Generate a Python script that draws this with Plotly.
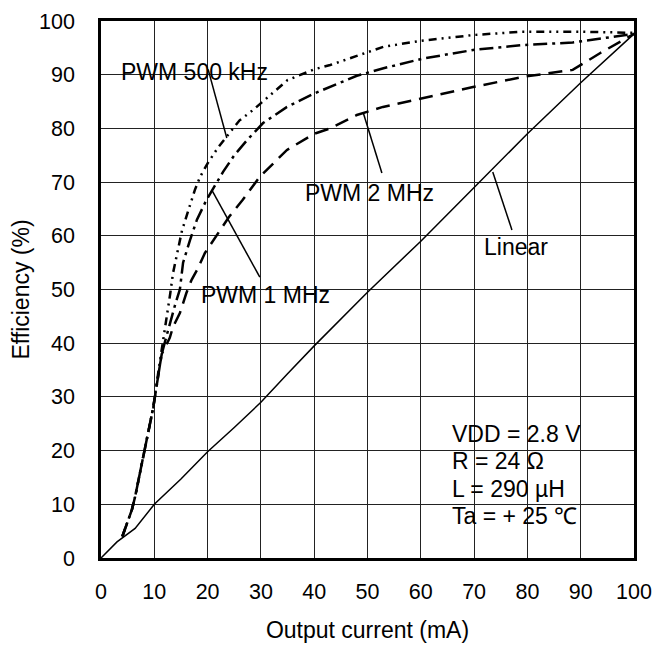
import plotly.graph_objects as go

# Output current (mA) / efficiency (%)
lin_x = [0, 3, 6.4, 10, 15, 20, 25, 30, 35, 40, 50, 60, 70, 80, 90, 100]
lin_y = [0, 3, 5.5, 10, 14.7, 19.8, 24.3, 29, 34.3, 39.5, 49.5, 59, 69, 79, 88.5, 97.6]

k500_x = [4, 5.8, 6.4, 7.9, 8.6, 9.8, 10.9, 11.4, 12, 12.6, 13, 13.5, 14.5, 15.2, 16.7, 17.6,
          18.6, 20, 22, 24, 26, 28.5, 31, 35, 40, 43, 48, 53, 60, 70, 79, 90, 100]
k500_y = [4, 9, 11.4, 18.8, 22.5, 28, 35.6, 38.7, 43, 46.7, 49.3, 53, 57.7, 61, 65.7, 68.5,
          71, 73.5, 76.5, 79, 81.5, 83.4, 85.5, 89, 91, 91.8, 93.5, 95.2, 96.3, 97.4, 98, 98, 97.8]

m1_x = [4, 5.8, 6.4, 7.9, 8.6, 9.8, 11, 11.4, 12.2, 13, 14, 14.8, 15.4, 16.7, 18, 19.8,
        21.7, 22.9, 25, 27.4, 30.4, 34.9, 40, 43, 48, 53, 60.4, 69.8, 79, 88.5, 100]
m1_y = [4, 9, 11.4, 18.8, 22.5, 28, 35.6, 38, 41, 44, 47.5, 50, 55, 59.2, 63, 66.7,
        69.8, 71.9, 75, 77.8, 81, 84, 86.5, 87.7, 89.8, 91.2, 93, 94.6, 95.5, 96, 97.6]

m2_x = [4, 5.8, 6.4, 7.9, 8.6, 9.8, 11, 11.4, 12.9, 13.5, 14.8, 16, 17, 18, 19.5, 21.7,
        24, 26.6, 29.8, 34.9, 40, 43, 48, 52.9, 60.4, 69.8, 79.2, 88.5, 93.6, 100]
m2_y = [4, 9, 11.4, 18.8, 22.5, 28, 35.6, 38, 41, 43, 45.6, 49.3, 51.8, 53.6, 56.8, 60,
        63.5, 66.7, 71, 76, 79, 80, 82.5, 84, 85.7, 87.7, 89.6, 90.9, 94, 97.6]

x_ticks = [0, 10, 20, 30, 40, 50, 60, 70, 80, 90, 100]
y_ticks = [0, 10, 20, 30, 40, 50, 60, 70, 80, 90, 100]

FONT = "Liberation Sans, Arial, sans-serif"
ANN = 23

fig = go.Figure()
fig.add_trace(go.Scatter(x=lin_x, y=lin_y, mode="lines",
                         line=dict(color="black", width=1.5)))
fig.add_trace(go.Scatter(x=k500_x, y=k500_y, mode="lines",
                         line=dict(color="black", width=2.5, dash="8px,5px,2px,5px,2px,5px")))
fig.add_trace(go.Scatter(x=m1_x, y=m1_y, mode="lines",
                         line=dict(color="black", width=2.5, dash="14px,5px,3px,5px")))
fig.add_trace(go.Scatter(x=m2_x, y=m2_y, mode="lines",
                         line=dict(color="black", width=2.5, dash="14px,8px")))

labels = [
    ("PWM 500 kHz", 3.6, 90.5),
    ("PWM 1 MHz", 18.5, 49.0),
    ("PWM 2 MHz", 38.0, 68.0),
    ("Linear", 71.7, 58.0),
]
for t, x, y in labels:
    fig.add_annotation(x=x, y=y, text=t, showarrow=False, xanchor="left", yanchor="middle",
                       borderpad=0, font=dict(size=ANN, color="black", family=FONT))

leaders = [
    (20.1, 91.0, 23.6, 78.2),
    (20.8, 68.5, 29.8, 52.3),
    (49.2, 82.9, 52.7, 71.7),
    (73.5, 71.9, 77.1, 61.1),
]
for x0, y0, x1, y1 in leaders:
    fig.add_shape(type="line", x0=x0, y0=y0, x1=x1, y1=y1, xref="x", yref="y",
                  line=dict(color="black", width=1.5))

cond = ["VDD = 2.8 V", "R = 24 Ω", "L = 290 µH", "Ta = + 25 ℃"]
for i, t in enumerate(cond):
    fig.add_annotation(x=65.6, y=23.1 - i * 5.1, text=t, showarrow=False, xanchor="left",
                       yanchor="middle", borderpad=0,
                       font=dict(size=ANN, color="black", family=FONT))

fig.update_layout(
    width=661, height=642,
    margin=dict(l=93, r=35, t=13, b=92),
    paper_bgcolor="white", plot_bgcolor="white",
    showlegend=False,
    font=dict(family=FONT, size=21.5, color="black"),
)
fig.update_xaxes(range=[0, 100], tickvals=x_ticks, showgrid=True, gridcolor="#222", gridwidth=1,
                 zeroline=False, showline=True, linecolor="black", linewidth=2.5, mirror=True,
                 ticks="", ticklabelstandoff=12, tickfont=dict(size=21.5), automargin=False,
                 title=dict(text="Output current (mA)", font=dict(size=23), standoff=20))
fig.update_yaxes(range=[0, 100], tickvals=y_ticks, showgrid=True, gridcolor="#222", gridwidth=1,
                 zeroline=False, showline=True, linecolor="black", linewidth=2.5, mirror=True,
                 ticks="", ticklabelstandoff=19, tickfont=dict(size=21.5), automargin=False,
                 title=dict(text="Efficiency (%)", font=dict(size=23), standoff=4))

fig.write_html("out.html")
